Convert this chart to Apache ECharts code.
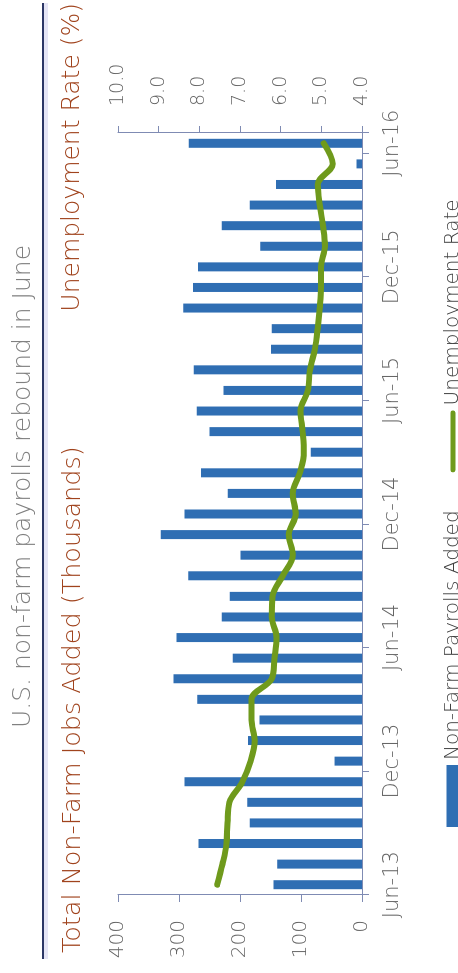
<!DOCTYPE html>
<html>
<head>
<meta charset="utf-8">
<script src="https://cdn.jsdelivr.net/npm/echarts@6/dist/echarts.min.js"></script>
<style>
  html, body { margin: 0; padding: 0; background: #ffffff; overflow: hidden; }
  /* The chart is laid out landscape and turned a quarter turn counter-clockwise */
  #chart {
    position: absolute; left: 0; top: 0;
    width: 973px; height: 458px;
    transform-origin: 0 0;
    transform: translate(0, 973px) rotate(-90deg);
  }
</style>
</head>
<body>
<div id="chart"></div>
<script>
// Monthly categories, June 2013 – June 2016
const months = [
  'Jun-13','Jul-13','Aug-13','Sep-13','Oct-13','Nov-13','Dec-13',
  'Jan-14','Feb-14','Mar-14','Apr-14','May-14','Jun-14','Jul-14','Aug-14','Sep-14','Oct-14','Nov-14','Dec-14',
  'Jan-15','Feb-15','Mar-15','Apr-15','May-15','Jun-15','Jul-15','Aug-15','Sep-15','Oct-15','Nov-15','Dec-15',
  'Jan-16','Feb-16','Mar-16','Apr-16','May-16','Jun-16'
];

// Total non-farm jobs added (thousands)
const payrollsAdded = [
  145, 139, 268, 184, 188, 291, 45,
  187, 168, 270, 309, 212, 304, 230, 217, 285, 199, 330, 291,
  220, 264, 84, 250, 271, 227, 276, 149, 148, 293, 277, 269,
  167, 230, 184, 141, 9, 284
];

// Unemployment rate (%)
const unemploymentRate = [
  7.56, 7.43, 7.33, 7.31, 7.26, 6.94, 6.74,
  6.64, 6.72, 6.72, 6.22, 6.15, 6.10, 6.22, 6.20, 5.95, 5.70, 5.80, 5.63,
  5.70, 5.53, 5.43, 5.46, 5.51, 5.33, 5.28, 5.16, 5.09, 5.04, 5.01, 5.01,
  4.91, 4.96, 5.04, 5.09, 4.72, 4.94
];

const titleText = 'U.S. non-farm payrolls rebound in June';
const leftAxisName = 'Total Non-Farm Jobs Added (Thousands)';
const rightAxisName = 'Unemployment Rate (%)';
const barName = 'Non-Farm Payrolls Added';
const lineName = 'Unemployment Rate';

const FONT = '"DejaVu Sans", "Noto Sans", sans-serif';
const WEIGHT = 200;
const AXIS_COLOR = '#7f8bb3';
const LABEL_COLOR = '#666666';
const NAME_COLOR = '#a0431d';
const BAR_COLOR = '#2f6eb3';
const LINE_COLOR = '#6f9a1c';

const chart = echarts.init(document.getElementById('chart'), null, { renderer: 'canvas' });

chart.setOption({
  backgroundColor: '#ffffff',
  animation: false,
  textStyle: { fontFamily: FONT },
  title: {
    text: titleText,
    left: 'center',
    top: 6,
    textStyle: { fontFamily: FONT, fontSize: 25, fontWeight: WEIGHT, color: '#808080' }
  },
  graphic: [
    { type: 'line', shape: { x1: 14, y1: 46, x2: 970, y2: 46 }, style: { stroke: 'rgba(150,150,215,0.25)', lineWidth: 4 } },
    { type: 'line', shape: { x1: 14, y1: 43, x2: 970, y2: 43 }, style: { stroke: '#2c3766', lineWidth: 2 } },
    { type: 'text', left: 20, top: 60, style: { text: leftAxisName, fontFamily: FONT, fontSize: 25.5, fontWeight: WEIGHT, fill: NAME_COLOR } },
    { type: 'text', right: 3, top: 60, style: { text: rightAxisName, fontFamily: FONT, fontSize: 25, fontWeight: WEIGHT, fill: NAME_COLOR } }
  ],
  legend: {
    left: 141,
    top: 438,
    itemWidth: 62,
    itemHeight: 13,
    itemGap: 38,
    textStyle: { fontFamily: FONT, fontSize: 20, fontWeight: WEIGHT, color: '#404040' },
    data: [
      { name: barName, icon: 'rect' },
      // thin horizontal stroke; the extra move-to points keep the icon box 62x13
      { name: lineName, icon: 'path://M0,0 M62,13 M1,4 L61,4 A2.5,2.5 0 0 1 61,9 L1,9 A2.5,2.5 0 0 1 1,4 Z' }
    ]
  },
  grid: { left: 78, right: 133, top: 118, bottom: 96, containLabel: false },
  xAxis: {
    type: 'category',
    data: months,
    boundaryGap: true,
    axisLine: { show: true, lineStyle: { color: AXIS_COLOR, width: 1 } },
    axisTick: { show: true, interval: 5, length: 7, lineStyle: { color: AXIS_COLOR } },
    axisLabel: { interval: 5, margin: 20, fontFamily: FONT, fontSize: 21, fontWeight: WEIGHT, color: LABEL_COLOR }
  },
  yAxis: [
    {
      type: 'value',
      min: 0, max: 400, interval: 100,
      position: 'left',
      axisLine: { show: true, lineStyle: { color: AXIS_COLOR, width: 1 } },
      axisTick: { show: true, length: 7, lineStyle: { color: AXIS_COLOR } },
      splitLine: { show: false },
      axisLabel: { margin: 25, fontFamily: FONT, fontSize: 20, fontWeight: WEIGHT, color: LABEL_COLOR }
    },
    {
      type: 'value',
      min: 4, max: 10, interval: 1,
      position: 'right',
      axisLine: { show: true, lineStyle: { color: AXIS_COLOR, width: 1 } },
      axisTick: { show: true, length: 7, lineStyle: { color: AXIS_COLOR } },
      splitLine: { show: false },
      axisLabel: {
        margin: 27, fontFamily: FONT, fontSize: 19, fontWeight: WEIGHT, color: LABEL_COLOR,
        formatter: v => v.toFixed(1)
      }
    }
  ],
  series: [
    {
      name: barName,
      type: 'bar',
      data: payrollsAdded,
      barWidth: 9,
      itemStyle: { color: BAR_COLOR }
    },
    {
      name: lineName,
      type: 'line',
      yAxisIndex: 1,
      data: unemploymentRate,
      smooth: 0.35,
      symbol: 'none',
      lineStyle: { color: LINE_COLOR, width: 6, cap: 'round', join: 'round' },
      itemStyle: { color: LINE_COLOR },
      z: 3
    }
  ]
});
</script>
</body>
</html>
